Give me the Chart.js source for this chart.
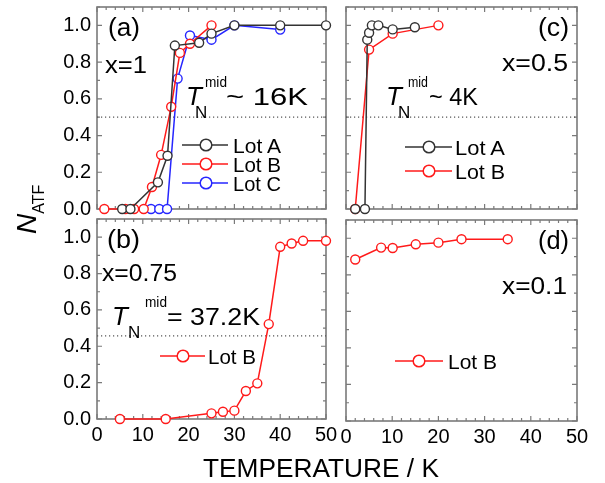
<!DOCTYPE html>
<html><head><meta charset="utf-8">
<script src="https://cdn.jsdelivr.net/npm/chart.js@4.4.1/dist/chart.umd.min.js"></script>
<style>
html,body{margin:0;padding:0;background:#fff;}
#wrap{position:relative;width:605px;height:483px;overflow:hidden;background:#fff;}
canvas{position:absolute;left:0;top:0;width:605px;height:483px;}
svg{position:absolute;left:0;top:0;}
svg text{font-family:"Liberation Sans",Arial,sans-serif;fill:#000;}
</style></head><body>
<div id="wrap">
<canvas id="pa" width="605" height="483"></canvas>
<canvas id="pb" width="605" height="483"></canvas>
<canvas id="pc" width="605" height="483"></canvas>
<canvas id="pd" width="605" height="483"></canvas>
<svg width="605" height="483" viewBox="0 0 605 483">
  <!-- axis titles -->
  <text x="321" y="477" font-size="26" text-anchor="middle" textLength="236" lengthAdjust="spacingAndGlyphs">TEMPERATURE / K</text>
  <text transform="translate(36,234) rotate(-90)"><tspan font-size="28" font-style="italic">N</tspan><tspan font-size="16" dy="8">ATF</tspan></text>

  <!-- panel (a) -->
  <text x="108" y="36" font-size="25" textLength="32" lengthAdjust="spacingAndGlyphs">(a)</text>
  <text x="105" y="73" font-size="24" textLength="42" lengthAdjust="spacingAndGlyphs">x=1</text>
  <text x="186" y="105" font-size="26" font-style="italic">T</text>
  <text x="195" y="118" font-size="17">N</text>
  <text x="205" y="87" font-size="14" textLength="22" lengthAdjust="spacingAndGlyphs">mid</text>
  <text x="226" y="105" font-size="24" textLength="82" lengthAdjust="spacingAndGlyphs">~ 16K</text>
  <line x1="182" y1="145" x2="228" y2="145" stroke="#333" stroke-width="1.5"/><circle cx="206" cy="145" r="5.8" fill="#fff" stroke="#333" stroke-width="1.5"/>
  <text x="233" y="152.5" font-size="21" textLength="48" lengthAdjust="spacingAndGlyphs">Lot A</text>
  <line x1="182" y1="164" x2="228" y2="164" stroke="#ff1a1a" stroke-width="1.5"/><circle cx="206" cy="164" r="5.8" fill="#fff" stroke="#ff1a1a" stroke-width="1.5"/>
  <text x="233" y="171.5" font-size="21" textLength="48" lengthAdjust="spacingAndGlyphs">Lot B</text>
  <line x1="182" y1="183" x2="228" y2="183" stroke="#2626ff" stroke-width="1.5"/><circle cx="206" cy="183" r="5.8" fill="#fff" stroke="#2626ff" stroke-width="1.5"/>
  <text x="233" y="190.5" font-size="21" textLength="48" lengthAdjust="spacingAndGlyphs">Lot C</text>

  <!-- panel (c) -->
  <text x="538" y="36" font-size="25" textLength="31" lengthAdjust="spacingAndGlyphs">(c)</text>
  <text x="502" y="71" font-size="24" textLength="66" lengthAdjust="spacingAndGlyphs">x=0.5</text>
  <text x="386" y="105" font-size="26" font-style="italic">T</text>
  <text x="398" y="118" font-size="17">N</text>
  <text x="408" y="87" font-size="14" textLength="20" lengthAdjust="spacingAndGlyphs">mid</text>
  <text x="429" y="105" font-size="24" textLength="49" lengthAdjust="spacingAndGlyphs">~ 4K</text>
  <line x1="405" y1="147" x2="452" y2="147" stroke="#333" stroke-width="1.5"/><circle cx="429" cy="147" r="5.8" fill="#fff" stroke="#333" stroke-width="1.5"/>
  <text x="455" y="154.5" font-size="21" textLength="50" lengthAdjust="spacingAndGlyphs">Lot A</text>
  <line x1="405" y1="171" x2="452" y2="171" stroke="#ff1a1a" stroke-width="1.5"/><circle cx="429" cy="171" r="5.8" fill="#fff" stroke="#ff1a1a" stroke-width="1.5"/>
  <text x="455" y="178.5" font-size="21" textLength="50" lengthAdjust="spacingAndGlyphs">Lot B</text>

  <!-- panel (b) -->
  <text x="107" y="248" font-size="25" textLength="33" lengthAdjust="spacingAndGlyphs">(b)</text>
  <text x="102" y="281" font-size="24" textLength="75" lengthAdjust="spacingAndGlyphs">x=0.75</text>
  <text x="112" y="325" font-size="26" font-style="italic">T</text>
  <text x="128" y="338" font-size="17">N</text>
  <text x="145" y="307" font-size="14" textLength="22" lengthAdjust="spacingAndGlyphs">mid</text>
  <text x="167" y="325" font-size="24" textLength="93" lengthAdjust="spacingAndGlyphs">= 37.2K</text>
  <line x1="160" y1="356" x2="205" y2="356" stroke="#ff1a1a" stroke-width="1.5"/><circle cx="183" cy="356" r="5.8" fill="#fff" stroke="#ff1a1a" stroke-width="1.5"/>
  <text x="208" y="363.5" font-size="21" textLength="48" lengthAdjust="spacingAndGlyphs">Lot B</text>

  <!-- panel (d) -->
  <text x="538" y="249" font-size="25" textLength="31" lengthAdjust="spacingAndGlyphs">(d)</text>
  <text x="502" y="294" font-size="24" textLength="65" lengthAdjust="spacingAndGlyphs">x=0.1</text>
  <line x1="395" y1="361" x2="443" y2="361" stroke="#ff1a1a" stroke-width="1.5"/><circle cx="419" cy="361" r="5.8" fill="#fff" stroke="#ff1a1a" stroke-width="1.5"/>
  <text x="448" y="368.5" font-size="21" textLength="49" lengthAdjust="spacingAndGlyphs">Lot B</text>
</svg>
</div>
<script>
// ---------------- data ----------------
// panel (a): x = 1
const panelA_lotA_T = [5.5, 7.3, 13.3, 15.4, 17.0, 22.3, 25.0, 30, 40, 50];
const panelA_lotA_N = [0, 0, 0.145, 0.29, 0.89, 0.905, 0.955, 1.0, 1.0, 1.0];
const panelA_lotB_T = [1.6, 6.2, 8.1, 10.2, 12.0, 14.0, 16.2, 18.1, 20.3, 25.0];
const panelA_lotB_N = [0, 0, 0, 0, 0.12, 0.295, 0.557, 0.85, 0.90, 1.0];
const panelA_lotC_T = [11.8, 13.6, 15.3, 17.6, 20.3, 25.0, 30, 40];
const panelA_lotC_N = [0, 0, 0, 0.71, 0.945, 0.922, 1.0, 0.977];
// panel (b): x = 0.75
const panelB_lotB_T = [5, 15, 25, 27.5, 30, 32.5, 35, 37.5, 40, 42.5, 45, 50];
const panelB_lotB_N = [0, 0, 0.031, 0.04, 0.046, 0.154, 0.196, 0.522, 0.947, 0.965, 0.98, 0.98];
// panel (c): x = 0.5
const panelC_lotA_T = [2, 4.1, 4.6, 5.0, 5.6, 7.0, 10.1, 14.9];
const panelC_lotA_N = [0, 0, 0.922, 0.96, 1.0, 1.0, 0.978, 0.99];
const panelC_lotB_T = [2, 5.0, 10.1, 20];
const panelC_lotB_N = [0, 0.868, 0.955, 1.0];
// panel (d): x = 0.1
const panelD_lotB_T = [2, 7.6, 10.1, 15.1, 20, 25, 35];
const panelD_lotB_N = [0.884, 0.949, 0.947, 0.967, 0.976, 0.995, 0.995];
// dotted mid-level lines
const midLevelA = 0.5;
const midLevelB = 0.457;
const midLevelC = 0.5;
// axis ticks
const xRange = [0, 50];
const yRange = [0, 1.1];
const xTickStep = 2;
const yTickStep = 0.1;

// ---------------- styling ----------------
const COL = {A: '#333333', B: '#ff1a1a', C: '#2626ff'};
const FONT = '"Liberation Sans", Arial, sans-serif';
const FRAME = '#7a7a7a';

function pts(T, N) { return T.map((t, i) => ({x: t, y: N[i]})); }
function ds(label, T, N, color) {
  return {
    label, data: pts(T, N), showLine: true, tension: 0, clip: false,
    borderColor: color, borderWidth: 1.5, backgroundColor: '#fff',
    pointRadius: 4.5, pointBorderWidth: 1.4, pointBorderColor: color, pointBackgroundColor: '#fff'
  };
}

const framePlugin = {
  id: 'frame',
  beforeDatasetsDraw(chart, args, opts) {
    const {ctx, chartArea: a, scales: {x, y}} = chart;
    ctx.save();
    ctx.strokeStyle = FRAME;
    ctx.lineWidth = 1.2;
    ctx.beginPath();
    x.ticks.forEach(t => {
      const px = x.getPixelForValue(t.value);
      const len = Math.round(t.value) % 10 === 0 ? 5 : 3;
      ctx.moveTo(px, a.bottom); ctx.lineTo(px, a.bottom - len);
      ctx.moveTo(px, a.top); ctx.lineTo(px, a.top + len);
    });
    y.ticks.forEach(t => {
      const py = y.getPixelForValue(t.value);
      const len = Math.round(t.value * 10) % 2 === 0 ? 5 : 3;
      ctx.moveTo(a.left, py); ctx.lineTo(a.left + len, py);
      ctx.moveTo(a.right, py); ctx.lineTo(a.right - len, py);
    });
    ctx.stroke();
    ctx.lineWidth = 1.6;
    ctx.strokeRect(a.left, a.top, a.right - a.left, a.bottom - a.top);
    if (opts && opts.level != null) {
      const py = y.getPixelForValue(opts.level);
      ctx.strokeStyle = '#555';
      ctx.lineWidth = 1.2;
      ctx.setLineDash([1.2, 2.8]);
      ctx.beginPath();
      ctx.moveTo(a.left, py); ctx.lineTo(a.right, py);
      ctx.stroke();
    }
    ctx.restore();
  }
};

function makePanel(id, area, datasets, showX, showY, level) {
  const yW = 40, xH = 30;
  new Chart(document.getElementById(id), {
    type: 'scatter',
    data: {datasets},
    plugins: [framePlugin],
    options: {
      responsive: false, animation: false, events: [],
      layout: {padding: {left: area.L - yW, right: 605 - area.R, top: area.T, bottom: 483 - area.B - xH}},
      plugins: {legend: {display: false}, tooltip: {enabled: false}, frame: {level}},
      scales: {
        x: {
          type: 'linear', position: 'bottom', min: xRange[0], max: xRange[1],
          grid: {display: false, drawTicks: false}, border: {display: false},
          ticks: {
            stepSize: xTickStep, autoSkip: false, maxRotation: 0, padding: 4, color: '#000',
            font: {family: FONT, size: 20},
            callback: v => (showX && Math.round(v) % 10 === 0) ? String(Math.round(v)) : ''
          },
          afterFit(s) { s.height = xH; s.paddingLeft = 0; s.paddingRight = 0; }
        },
        y: {
          type: 'linear', position: 'left', min: yRange[0], max: yRange[1],
          grid: {display: false, drawTicks: false}, border: {display: false},
          ticks: {
            stepSize: yTickStep, autoSkip: false, padding: 6, color: '#000',
            font: {family: FONT, size: 20},
            callback: v => { const k = Math.round(v * 10); return (showY && k % 2 === 0 && k <= 10) ? (k / 10).toFixed(1) : ''; }
          },
          afterFit(s) { s.width = yW; s.paddingTop = 0; s.paddingBottom = 0; }
        }
      }
    }
  });
}

makePanel('pa', {L: 97, R: 326, T: 7, B: 209}, [
  ds('Lot A', panelA_lotA_T, panelA_lotA_N, COL.A),
  ds('Lot B', panelA_lotB_T, panelA_lotB_N, COL.B),
  ds('Lot C', panelA_lotC_T, panelA_lotC_N, COL.C)
], false, true, midLevelA);

makePanel('pb', {L: 97, R: 326, T: 219, B: 419}, [
  ds('Lot B', panelB_lotB_T, panelB_lotB_N, COL.B)
], true, true, midLevelB);

makePanel('pc', {L: 346, R: 577, T: 7, B: 209}, [
  ds('Lot A', panelC_lotA_T, panelC_lotA_N, COL.A),
  ds('Lot B', panelC_lotB_T, panelC_lotB_N, COL.B)
], false, false, midLevelC);

makePanel('pd', {L: 346, R: 577, T: 220, B: 421}, [
  ds('Lot B', panelD_lotB_T, panelD_lotB_N, COL.B)
], true, false, null);
</script>
</body></html>
